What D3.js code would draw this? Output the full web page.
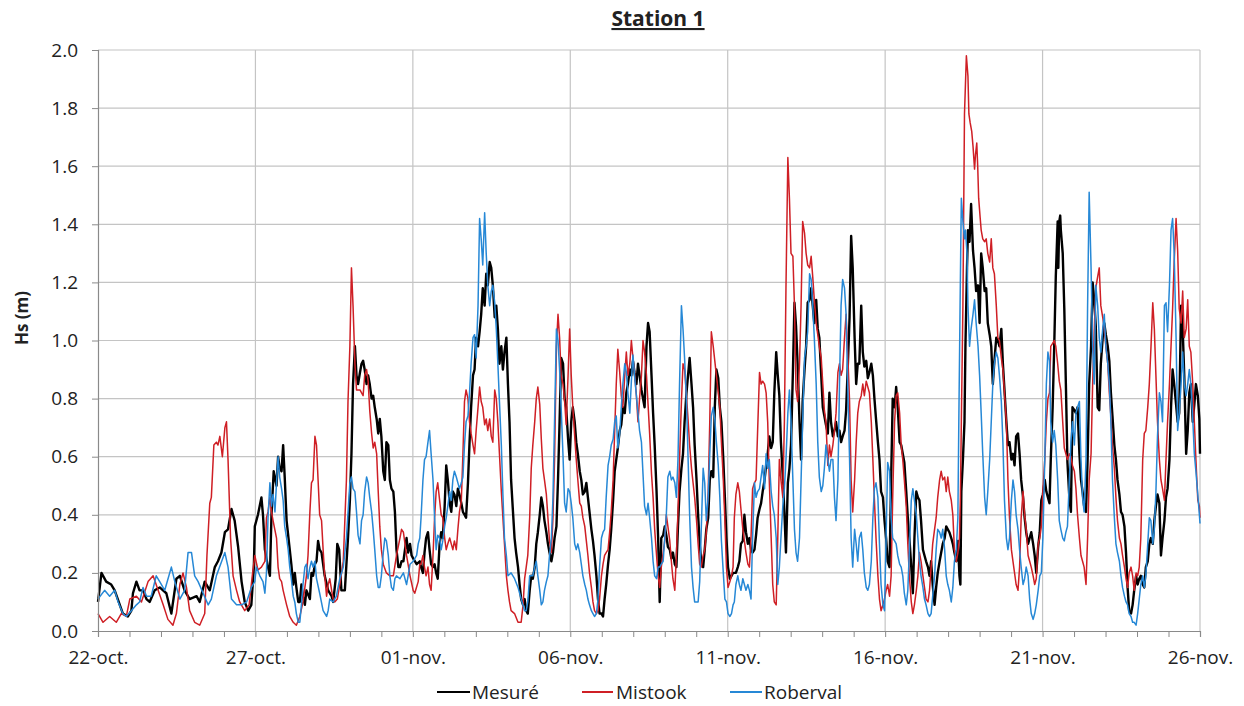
<!DOCTYPE html>
<html>
<head>
<meta charset="utf-8">
<script src="https://cdn.jsdelivr.net/npm/d3@7"></script>
<style>
  html, body { margin: 0; padding: 0; background: #fff; }
  svg { display: block; font-family: "Open Sans", "DejaVu Sans", sans-serif; }
</style>
</head>
<body>
<svg id="chart" width="1244" height="706"></svg>
<script>
// Hs (m) at Station 1; x is days elapsed since 22 October
const startLabel = "22-oct.";
const dayTickLabels = ["22-oct.", "27-oct.", "01-nov.", "06-nov.", "11-nov.", "16-nov.", "21-nov.", "26-nov."];
const yTickValues = [0, 0.2, 0.4, 0.6, 0.8, 1.0, 1.2, 1.4, 1.6, 1.8, 2.0];
const seriesNames = ["Mesuré", "Mistook", "Roberval"];

const mesure = [
[0,0.10],[0.11,0.20],[0.26,0.17],[0.42,0.16],[0.53,0.14],[0.79,0.06],[0.95,0.05],[1.06,0.07],[1.11,0.13],[1.22,0.17],[1.32,0.14],[1.43,0.14],[1.54,0.11],[1.64,0.10],[1.80,0.14],[1.96,0.15],[2.17,0.13],[2.33,0.06],[2.49,0.18],[2.60,0.19],[2.75,0.14],[2.91,0.11],[3.13,0.12],[3.23,0.10],[3.39,0.17],[3.55,0.14],[3.71,0.22],[3.81,0.24],[3.92,0.27],[4.03,0.34],[4.13,0.35],[4.24,0.42],[4.34,0.38],[4.45,0.29],[4.56,0.17],[4.66,0.10],[4.77,0.07],[4.87,0.09],[4.95,0.22],
[4.98,0.36],[5.08,0.40],[5.19,0.46],[5.24,0.40],[5.30,0.28],[5.40,0.22],[5.46,0.19],[5.51,0.40],[5.58,0.55],[5.67,0.50],[5.72,0.60],[5.77,0.56],[5.83,0.55],[5.88,0.64],[5.93,0.53],[5.99,0.38],[6.09,0.28],[6.14,0.23],[6.20,0.16],[6.25,0.20],[6.30,0.15],[6.36,0.10],[6.41,0.10],[6.46,0.16],[6.51,0.12],[6.57,0.09],[6.62,0.14],[6.73,0.11],[6.78,0.20],[6.83,0.19],[6.89,0.23],[6.94,0.24],[6.99,0.31],[7.04,0.28],[7.10,0.27],[7.20,0.19],[7.31,0.14],[7.42,0.12],[7.47,0.10],[7.55,0.18],[7.60,0.30],[7.66,0.28],[7.73,0.14],[7.84,0.14],[7.94,0.32],[8.00,0.45],[8.05,0.61],[8.10,0.85],[8.16,0.98],[8.21,0.88],[8.26,0.85],[8.32,0.89],[8.37,0.92],[8.42,0.93],[8.47,0.90],[8.53,0.85],[8.58,0.88],[8.63,0.85],[8.69,0.80],[8.74,0.81],[8.79,0.77],[8.85,0.73],[8.90,0.68],[8.95,0.73],[9.00,0.67],[9.06,0.55],[9.11,0.52],[9.16,0.65],[9.22,0.64],[9.27,0.52],[9.32,0.49],[9.38,0.48],[9.43,0.41],[9.48,0.28],[9.54,0.22],[9.59,0.22],[9.64,0.24],[9.70,0.24],[9.80,0.32],[9.85,0.27],[9.91,0.30],[9.96,0.26],[10.01,0.25],[10.12,0.23],[10.22,0.24],
[10.26,0.22],[10.32,0.20],[10.37,0.27],[10.42,0.32],[10.48,0.34],[10.53,0.28],[10.58,0.23],[10.64,0.22],[10.69,0.23],[10.74,0.20],[10.79,0.18],[10.85,0.30],[10.90,0.34],[10.95,0.32],[11.01,0.43],[11.06,0.57],[11.11,0.52],[11.17,0.44],[11.22,0.41],[11.27,0.48],[11.32,0.47],[11.38,0.43],[11.43,0.49],[11.48,0.47],[11.54,0.44],[11.59,0.41],[11.64,0.40],[11.69,0.39],[11.75,0.51],[11.80,0.65],[11.85,0.77],[11.91,0.88],[11.96,0.90],[12.01,1.01],[12.07,0.98],[12.12,1.03],[12.17,1.09],[12.22,1.18],[12.28,1.12],[12.33,1.23],[12.38,1.19],[12.44,1.27],[12.49,1.25],[12.54,1.19],[12.60,1.08],[12.65,1.12],[12.70,1.04],[12.75,0.92],[12.81,0.98],[12.86,0.90],[12.91,0.96],[12.97,1.01],[13.02,0.85],[13.07,0.72],[13.12,0.52],[13.18,0.41],[13.23,0.32],[13.28,0.27],[13.34,0.22],[13.39,0.16],[13.44,0.11],[13.50,0.09],[13.55,0.11],[13.60,0.07],[13.65,0.06],[13.71,0.14],[13.76,0.19],[13.81,0.18],[13.87,0.22],[13.92,0.30],[13.97,0.34],[14.03,0.40],[14.08,0.46],[14.13,0.43],[14.18,0.38],[14.24,0.34],[14.29,0.30],[14.34,0.27],[14.40,0.24],[14.45,0.27],[14.50,0.32],[14.56,0.36],[14.61,0.52],[14.66,0.72],[14.71,0.94],[14.77,0.92],[14.82,0.80],[14.87,0.77],[14.93,0.66],[14.98,0.59],[15.03,0.72],
[15.08,0.77],[15.14,0.72],[15.19,0.65],[15.24,0.61],[15.30,0.55],[15.35,0.52],[15.40,0.47],[15.46,0.48],[15.51,0.51],[15.56,0.46],[15.61,0.41],[15.67,0.35],[15.72,0.31],[15.77,0.26],[15.83,0.19],[15.88,0.11],[15.93,0.06],[15.99,0.06],[16.04,0.05],[16.09,0.11],[16.14,0.16],[16.20,0.23],[16.25,0.28],[16.30,0.35],[16.36,0.45],[16.41,0.55],[16.46,0.59],[16.51,0.63],[16.57,0.69],[16.62,0.71],[16.67,0.77],[16.73,0.75],[16.78,0.82],[16.83,0.85],[16.89,0.90],[16.94,0.88],[16.99,0.93],[17.04,0.89],[17.10,0.85],[17.15,0.92],[17.20,0.88],[17.26,0.83],[17.31,0.80],[17.36,0.77],[17.42,0.98],[17.47,1.06],[17.52,1.03],[17.58,0.88],[17.63,0.75],[17.68,0.64],[17.74,0.48],[17.79,0.32],[17.84,0.10],[17.89,0.32],[17.95,0.33],[18.00,0.36],[18.05,0.33],[18.10,0.29],[18.16,0.28],[18.21,0.25],[18.26,0.27],[18.32,0.23],[18.37,0.22],[18.42,0.36],[18.47,0.48],[18.53,0.56],[18.58,0.61],[18.63,0.72],[18.69,0.82],[18.74,0.88],[18.79,0.94],[18.85,0.85],[18.90,0.77],[18.95,0.64],[19.01,0.52],[19.06,0.40],[19.11,0.30],[19.16,0.24],[19.22,0.22],[19.27,0.28],[19.32,0.35],[19.38,0.39],[19.43,0.52],[19.48,0.55],[19.54,0.53],[19.59,0.77],[19.64,0.90],[19.70,0.87],[19.75,0.77],[19.80,0.72],[19.86,0.59],[19.91,0.46],[19.96,0.32],[20.01,0.22],[20.07,0.18],[20.12,0.19],[20.17,0.20],
[20.21,0.20],[20.26,0.20],[20.32,0.22],[20.37,0.24],[20.42,0.30],[20.48,0.31],[20.53,0.40],[20.58,0.34],[20.64,0.30],[20.69,0.32],[20.74,0.28],[20.79,0.27],[20.85,0.28],[20.90,0.33],[20.95,0.39],[21.01,0.42],[21.06,0.44],[21.11,0.48],[21.17,0.52],[21.22,0.57],[21.27,0.61],[21.32,0.67],[21.38,0.63],[21.43,0.65],[21.48,0.82],[21.54,0.96],[21.59,0.88],[21.64,0.81],[21.69,0.65],[21.75,0.53],[21.80,0.41],[21.85,0.27],[21.91,0.51],[21.96,0.56],[22.01,0.64],[22.07,0.89],[22.12,1.13],[22.17,1.05],[22.22,0.92],[22.28,0.72],[22.33,0.59],[22.38,0.79],[22.44,0.90],[22.49,0.98],[22.54,1.13],[22.60,1.14],[22.65,1.18],[22.70,1.12],[22.75,1.06],[22.81,1.14],[22.86,1.04],[22.91,1.01],[22.97,0.88],[23.02,0.77],[23.07,0.74],[23.12,0.71],[23.18,0.68],[23.23,0.82],[23.28,0.72],[23.34,0.67],[23.39,0.69],[23.44,0.72],[23.50,0.67],[23.55,0.69],[23.60,0.65],[23.65,0.67],[23.71,0.69],[23.76,0.76],[23.81,0.90],[23.87,1.08],[23.92,1.36],[23.97,1.25],[24.03,1.01],[24.08,0.85],[24.13,0.92],[24.18,0.92],[24.24,1.12],[24.29,0.96],[24.34,0.91],[24.40,0.93],[24.45,0.87],[24.50,0.89],[24.56,0.92],[24.61,0.88],[24.66,0.80],[24.71,0.73],[24.77,0.65],[24.82,0.59],[24.87,0.48],[24.93,0.46],[24.98,0.38],[25.03,0.32],[25.08,0.24],[25.14,0.22],
[25.19,0.52],[25.24,0.80],[25.30,0.77],[25.35,0.84],[25.40,0.77],[25.46,0.65],[25.51,0.64],[25.56,0.61],[25.61,0.58],[25.67,0.48],[25.72,0.39],[25.77,0.32],[25.83,0.22],[25.88,0.13],[25.93,0.32],[25.99,0.48],[26.04,0.46],[26.09,0.45],[26.14,0.38],[26.20,0.28],[26.25,0.26],[26.30,0.24],[26.36,0.22],[26.41,0.19],[26.46,0.24],[26.51,0.16],[26.57,0.09],[26.62,0.15],[26.67,0.20],[26.73,0.24],[26.78,0.27],[26.83,0.30],[26.89,0.32],[26.94,0.36],[26.99,0.35],[27.04,0.34],[27.10,0.32],[27.15,0.30],[27.20,0.27],[27.26,0.24],[27.31,0.31],[27.36,0.19],[27.39,0.16],[27.42,0.48],[27.47,0.59],[27.52,0.72],[27.55,0.98],[27.60,1.25],[27.63,1.38],[27.68,1.34],[27.73,1.47],[27.79,1.31],[27.84,1.25],[27.89,1.17],[27.95,1.19],[28.00,1.06],[28.05,1.30],[28.10,1.25],[28.16,1.17],[28.21,1.18],[28.26,1.06],[28.32,1.02],[28.37,0.98],[28.42,0.85],[28.47,0.93],[28.53,1.01],[28.58,1.00],[28.63,0.98],[28.69,1.04],[28.74,0.92],[28.79,0.83],[28.85,0.72],[28.90,0.64],[28.95,0.65],[29.01,0.59],[29.06,0.61],[29.11,0.57],[29.16,0.67],[29.22,0.68],[29.27,0.61],[29.32,0.52],[29.38,0.46],[29.43,0.39],[29.48,0.34],[29.54,0.30],[29.59,0.32],[29.64,0.34],[29.70,0.30],[29.75,0.26],[29.80,0.20],[29.86,0.29],[29.91,0.34],[29.96,0.45],[30.01,0.47],[30.07,0.52],[30.12,0.48],[30.17,0.46],[30.22,0.44],
[30.26,0.59],[30.32,0.77],[30.37,0.98],[30.42,1.22],[30.48,1.41],[30.50,1.25],[30.53,1.41],[30.56,1.43],[30.58,1.38],[30.64,1.30],[30.69,1.11],[30.74,0.85],[30.79,0.58],[30.85,0.46],[30.90,0.41],[30.95,0.77],[31.01,0.76],[31.06,0.75],[31.11,0.77],[31.17,0.61],[31.22,0.52],[31.27,0.48],[31.32,0.43],[31.38,0.41],[31.43,0.59],[31.48,0.85],[31.54,0.98],[31.59,1.20],[31.64,1.14],[31.69,1.05],[31.75,0.77],[31.80,0.76],[31.85,0.92],[31.91,1.01],[31.96,1.06],[32.01,1.02],[32.07,0.98],[32.12,0.93],[32.17,0.82],[32.22,0.74],[32.28,0.64],[32.33,0.59],[32.38,0.52],[32.44,0.47],[32.49,0.41],[32.54,0.40],[32.60,0.36],[32.65,0.27],[32.70,0.15],[32.75,0.07],[32.81,0.06],[32.86,0.09],[32.91,0.14],[32.97,0.19],[33.02,0.16],[33.07,0.18],[33.12,0.19],[33.18,0.16],[33.23,0.15],[33.28,0.22],[33.34,0.24],[33.39,0.30],[33.44,0.32],[33.50,0.30],[33.55,0.38],[33.60,0.43],[33.65,0.47],[33.71,0.44],[33.76,0.26],[33.81,0.32],[33.87,0.38],[33.92,0.46],[33.97,0.49],[34.03,0.59],[34.08,0.77],[34.13,0.90],[34.18,0.85],[34.24,0.78],[34.29,0.72],[34.34,0.75],[34.40,1.12],[34.45,1.04],[34.50,0.88],[34.56,0.61],[34.61,0.69],[34.66,0.82],[34.71,0.85],[34.77,0.72],[34.82,0.78],[34.87,0.85],[34.93,0.81],[34.98,0.73],[35.0,0.61]
];

const mistook = [
[0,0.06],[0.16,0.03],[0.37,0.05],[0.58,0.03],[0.74,0.06],[0.90,0.05],[1.01,0.11],[1.22,0.12],[1.38,0.10],[1.59,0.17],[1.75,0.19],[1.91,0.14],[2.07,0.09],[2.22,0.04],[2.38,0.02],[2.49,0.06],[2.60,0.16],[2.70,0.20],[2.81,0.15],[2.91,0.07],[3.07,0.03],[3.23,0.02],[3.39,0.06],[3.46,0.26],[3.55,0.44],[3.60,0.46],[3.68,0.64],[3.76,0.65],[3.81,0.64],[3.87,0.67],[3.95,0.60],[4.03,0.70],[4.08,0.72],[4.13,0.59],[4.21,0.32],[4.29,0.19],[4.40,0.14],[4.50,0.10],[4.66,0.07],[4.80,0.09],[4.90,0.19],
[4.98,0.26],[5.08,0.21],[5.19,0.22],[5.30,0.24],[5.35,0.39],[5.40,0.41],[5.46,0.46],[5.51,0.41],[5.56,0.38],[5.67,0.32],[5.72,0.22],[5.77,0.18],[5.83,0.17],[5.88,0.14],[5.99,0.09],[6.09,0.05],[6.20,0.03],[6.30,0.02],[6.41,0.05],[6.51,0.10],[6.62,0.19],[6.67,0.26],[6.73,0.41],[6.78,0.51],[6.83,0.52],[6.89,0.67],[6.94,0.64],[6.99,0.52],[7.04,0.40],[7.10,0.38],[7.15,0.28],[7.20,0.19],[7.26,0.12],[7.31,0.16],[7.36,0.18],[7.42,0.14],[7.47,0.11],[7.52,0.10],[7.60,0.11],[7.68,0.16],[7.79,0.24],[7.89,0.52],[7.94,0.79],[8.00,0.98],[8.05,1.25],[8.10,1.12],[8.16,0.92],[8.21,0.83],[8.32,0.83],[8.42,0.81],[8.47,0.88],[8.53,0.90],[8.58,0.86],[8.63,0.76],[8.69,0.68],[8.74,0.63],[8.79,0.65],[8.85,0.61],[8.90,0.48],[8.95,0.36],[9.00,0.28],[9.06,0.23],[9.16,0.20],[9.27,0.19],[9.38,0.19],[9.48,0.26],[9.59,0.32],[9.64,0.35],[9.70,0.34],[9.80,0.26],[9.91,0.19],[10.01,0.14],[10.06,0.13],[10.17,0.17],[10.22,0.23],
[10.26,0.23],[10.32,0.26],[10.37,0.22],[10.42,0.19],[10.48,0.22],[10.53,0.16],[10.58,0.14],[10.64,0.26],[10.69,0.39],[10.74,0.48],[10.79,0.51],[10.85,0.45],[10.90,0.40],[10.95,0.39],[11.01,0.32],[11.06,0.28],[11.11,0.30],[11.17,0.32],[11.22,0.30],[11.27,0.28],[11.32,0.31],[11.38,0.28],[11.43,0.35],[11.48,0.41],[11.54,0.45],[11.59,0.61],[11.64,0.79],[11.69,0.83],[11.75,0.80],[11.80,0.72],[11.85,0.68],[11.91,0.64],[11.96,0.61],[12.01,0.69],[12.07,0.77],[12.12,0.84],[12.17,0.79],[12.22,0.77],[12.28,0.71],[12.33,0.73],[12.38,0.69],[12.44,0.73],[12.49,0.67],[12.54,0.65],[12.60,0.83],[12.65,0.80],[12.70,0.72],[12.75,0.61],[12.81,0.48],[12.86,0.39],[12.91,0.30],[12.97,0.19],[13.02,0.14],[13.07,0.10],[13.12,0.07],[13.23,0.06],[13.34,0.03],[13.39,0.03],[13.44,0.03],[13.50,0.09],[13.55,0.18],[13.60,0.22],[13.65,0.26],[13.71,0.39],[13.76,0.56],[13.81,0.64],[13.87,0.72],[13.92,0.80],[13.97,0.84],[14.03,0.78],[14.08,0.66],[14.13,0.56],[14.18,0.52],[14.24,0.47],[14.29,0.39],[14.34,0.31],[14.40,0.27],[14.45,0.39],[14.50,0.59],[14.56,0.98],[14.61,1.09],[14.66,1.01],[14.71,0.88],[14.77,0.85],[14.82,0.79],[14.87,0.71],[14.93,0.88],[14.98,1.04],
[15.03,0.88],[15.08,0.77],[15.14,0.67],[15.19,0.59],[15.24,0.52],[15.30,0.44],[15.35,0.43],[15.40,0.39],[15.46,0.36],[15.51,0.31],[15.56,0.26],[15.61,0.20],[15.67,0.15],[15.72,0.10],[15.77,0.07],[15.83,0.06],[15.88,0.07],[15.93,0.11],[15.99,0.19],[16.04,0.23],[16.09,0.26],[16.14,0.27],[16.20,0.28],[16.25,0.34],[16.30,0.41],[16.36,0.52],[16.41,0.69],[16.46,0.85],[16.51,0.97],[16.57,0.89],[16.62,0.81],[16.67,0.77],[16.73,0.88],[16.78,0.96],[16.83,0.88],[16.89,0.92],[16.94,1.00],[16.99,0.94],[17.04,0.89],[17.10,0.81],[17.15,0.72],[17.20,0.80],[17.26,0.88],[17.31,1.00],[17.36,0.96],[17.42,0.88],[17.47,0.78],[17.52,0.68],[17.58,0.54],[17.63,0.46],[17.68,0.35],[17.74,0.26],[17.79,0.19],[17.84,0.15],[17.89,0.22],[17.95,0.27],[18.00,0.31],[18.05,0.40],[18.10,0.36],[18.16,0.31],[18.21,0.24],[18.26,0.18],[18.32,0.14],[18.37,0.26],[18.42,0.41],[18.47,0.59],[18.53,0.79],[18.58,0.92],[18.63,0.90],[18.69,0.81],[18.74,0.73],[18.79,0.64],[18.85,0.56],[18.90,0.51],[18.95,0.46],[19.01,0.38],[19.06,0.30],[19.11,0.23],[19.16,0.22],[19.22,0.26],[19.27,0.28],[19.32,0.34],[19.38,0.48],[19.43,0.72],[19.48,1.03],[19.54,0.98],[19.59,0.93],[19.64,0.88],[19.70,0.82],[19.75,0.77],[19.80,0.65],[19.86,0.52],[19.91,0.38],[19.96,0.22],[20.01,0.15],[20.07,0.17],[20.12,0.19],[20.17,0.22],
[20.21,0.39],[20.26,0.47],[20.32,0.51],[20.37,0.48],[20.42,0.42],[20.48,0.35],[20.53,0.31],[20.58,0.27],[20.64,0.23],[20.69,0.22],[20.74,0.32],[20.79,0.49],[20.85,0.51],[20.90,0.52],[20.95,0.69],[21.01,0.89],[21.06,0.85],[21.11,0.86],[21.17,0.85],[21.22,0.82],[21.27,0.72],[21.32,0.52],[21.38,0.32],[21.43,0.16],[21.48,0.10],[21.54,0.09],[21.59,0.32],[21.64,0.59],[21.69,0.52],[21.75,0.46],[21.80,0.72],[21.85,1.18],[21.91,1.63],[21.96,1.49],[22.01,1.30],[22.07,1.29],[22.12,1.12],[22.17,0.83],[22.22,0.79],[22.28,0.92],[22.33,1.12],[22.38,1.41],[22.44,1.37],[22.49,1.30],[22.54,1.26],[22.60,1.25],[22.65,1.29],[22.70,1.22],[22.75,1.14],[22.81,1.06],[22.86,1.02],[22.91,0.98],[22.97,0.94],[23.02,0.85],[23.07,0.76],[23.12,0.72],[23.18,0.57],[23.23,0.64],[23.28,0.60],[23.34,0.64],[23.39,0.69],[23.44,0.75],[23.50,0.89],[23.55,0.92],[23.60,0.88],[23.65,0.90],[23.71,1.01],[23.76,1.09],[23.81,0.96],[23.87,0.79],[23.92,0.52],[23.97,0.41],[24.03,0.52],[24.08,0.65],[24.13,0.75],[24.18,0.79],[24.24,0.81],[24.29,0.85],[24.34,0.81],[24.40,0.86],[24.45,0.84],[24.50,0.82],[24.56,0.72],[24.61,0.59],[24.66,0.45],[24.71,0.32],[24.77,0.19],[24.82,0.11],[24.87,0.07],[24.93,0.09],[24.98,0.11],[25.03,0.14],[25.08,0.16],
[25.14,0.12],[25.19,0.19],[25.24,0.46],[25.30,0.72],[25.35,0.81],[25.40,0.82],[25.46,0.75],[25.51,0.64],[25.56,0.59],[25.61,0.52],[25.67,0.43],[25.72,0.30],[25.77,0.19],[25.83,0.10],[25.88,0.06],[25.93,0.09],[25.99,0.14],[26.04,0.19],[26.09,0.27],[26.14,0.24],[26.20,0.19],[26.25,0.15],[26.30,0.11],[26.36,0.10],[26.41,0.14],[26.46,0.22],[26.51,0.30],[26.57,0.35],[26.62,0.39],[26.67,0.46],[26.73,0.52],[26.78,0.55],[26.83,0.52],[26.89,0.53],[26.94,0.48],[26.99,0.53],[27.04,0.48],[27.10,0.45],[27.15,0.40],[27.20,0.28],[27.26,0.24],[27.31,0.27],[27.36,0.32],[27.39,0.46],[27.42,0.72],[27.47,1.12],[27.52,1.78],[27.55,1.88],[27.58,1.98],[27.63,1.91],[27.66,1.78],[27.70,1.75],[27.75,1.72],[27.79,1.67],[27.84,1.59],[27.87,1.64],[27.91,1.68],[27.94,1.60],[27.97,1.49],[28.02,1.42],[28.05,1.38],[28.10,1.35],[28.16,1.34],[28.21,1.35],[28.26,1.30],[28.32,1.27],[28.37,1.35],[28.42,1.25],[28.47,1.23],[28.53,1.12],[28.58,1.01],[28.63,1.00],[28.69,0.94],[28.74,0.90],[28.79,0.82],[28.85,0.72],[28.90,0.52],[28.95,0.39],[29.01,0.28],[29.06,0.24],[29.11,0.20],[29.16,0.16],[29.22,0.14],[29.27,0.22],[29.32,0.39],[29.38,0.48],[29.43,0.40],[29.48,0.35],[29.54,0.26],[29.59,0.24],[29.64,0.22],[29.70,0.19],[29.75,0.16],[29.80,0.18],[29.86,0.30],[29.91,0.32],[29.96,0.36],[30.01,0.48],[30.07,0.59],[30.12,0.72],[30.17,0.80],[30.22,0.82],
[30.26,0.98],[30.32,0.99],[30.37,1.00],[30.42,0.98],[30.48,0.92],[30.53,0.86],[30.58,0.83],[30.64,0.72],[30.69,0.63],[30.74,0.61],[30.79,0.59],[30.85,0.61],[30.90,0.60],[30.95,0.57],[31.01,0.55],[31.06,0.49],[31.11,0.40],[31.17,0.32],[31.22,0.26],[31.27,0.24],[31.32,0.22],[31.38,0.16],[31.43,0.32],[31.48,0.52],[31.54,0.61],[31.59,0.85],[31.64,1.03],[31.69,1.18],[31.75,1.22],[31.80,1.25],[31.85,1.12],[31.91,1.08],[31.96,1.04],[32.01,0.98],[32.07,0.92],[32.12,0.82],[32.17,0.74],[32.22,0.64],[32.28,0.56],[32.33,0.46],[32.38,0.38],[32.44,0.32],[32.49,0.30],[32.54,0.26],[32.60,0.22],[32.65,0.18],[32.70,0.15],[32.75,0.20],[32.81,0.22],[32.86,0.19],[32.91,0.14],[32.97,0.20],[33.02,0.19],[33.07,0.22],[33.12,0.32],[33.18,0.59],[33.23,0.68],[33.28,0.69],[33.34,0.77],[33.39,0.85],[33.44,0.97],[33.50,1.13],[33.55,1.04],[33.60,0.88],[33.65,0.72],[33.71,0.59],[33.76,0.52],[33.81,0.49],[33.87,0.45],[33.92,0.59],[33.97,0.72],[34.03,0.85],[34.08,0.98],[34.13,1.11],[34.18,1.27],[34.24,1.42],[34.29,1.31],[34.34,1.11],[34.40,1.06],[34.45,1.17],[34.50,1.01],[34.56,1.04],[34.61,1.14],[34.66,0.98],[34.71,0.96],[34.77,0.85],[34.82,0.72],[34.87,0.59],[34.93,0.45],[34.98,0.43],[35.0,0.39]
];

const roberval = [
[0,0.11],[0.21,0.14],[0.37,0.12],[0.53,0.14],[0.64,0.10],[0.79,0.06],[0.90,0.05],[1.06,0.07],[1.22,0.09],[1.32,0.10],[1.43,0.15],[1.54,0.12],[1.69,0.12],[1.85,0.19],[1.96,0.17],[2.12,0.14],[2.33,0.22],[2.44,0.17],[2.60,0.11],[2.75,0.14],[2.86,0.27],[2.97,0.27],[3.07,0.19],[3.18,0.17],[3.34,0.13],[3.50,0.09],[3.60,0.11],[3.76,0.19],[4.03,0.27],[4.13,0.22],[4.24,0.11],[4.40,0.09],[4.56,0.09],[4.72,0.10],[4.87,0.15],[4.98,0.17],
[5.03,0.22],[5.14,0.19],[5.24,0.17],[5.30,0.13],[5.35,0.20],[5.40,0.39],[5.46,0.51],[5.51,0.43],[5.56,0.47],[5.62,0.41],[5.67,0.51],[5.72,0.60],[5.77,0.53],[5.83,0.49],[5.88,0.45],[5.93,0.36],[5.99,0.32],[6.04,0.28],[6.09,0.22],[6.14,0.18],[6.20,0.12],[6.25,0.10],[6.30,0.06],[6.36,0.03],[6.41,0.03],[6.46,0.09],[6.51,0.16],[6.57,0.22],[6.62,0.23],[6.67,0.18],[6.73,0.22],[6.78,0.24],[6.83,0.22],[6.89,0.24],[6.94,0.18],[7.04,0.13],[7.15,0.07],[7.26,0.05],[7.31,0.07],[7.36,0.11],[7.47,0.10],[7.57,0.12],[7.68,0.18],[7.79,0.22],[7.89,0.32],[8.00,0.51],[8.05,0.53],[8.10,0.49],[8.16,0.48],[8.21,0.41],[8.26,0.33],[8.32,0.30],[8.37,0.38],[8.42,0.40],[8.47,0.48],[8.53,0.53],[8.58,0.51],[8.63,0.46],[8.69,0.41],[8.74,0.35],[8.79,0.28],[8.85,0.19],[8.90,0.15],[8.95,0.15],[9.00,0.19],[9.06,0.27],[9.11,0.32],[9.16,0.31],[9.22,0.26],[9.27,0.19],[9.32,0.15],[9.38,0.14],[9.43,0.18],[9.48,0.19],[9.59,0.18],[9.70,0.20],[9.80,0.16],[9.85,0.19],[9.91,0.23],[10.01,0.24],[10.12,0.26],[10.17,0.30],[10.22,0.32],
[10.26,0.39],[10.32,0.52],[10.37,0.59],[10.42,0.60],[10.48,0.65],[10.53,0.69],[10.58,0.61],[10.64,0.52],[10.69,0.39],[10.74,0.28],[10.79,0.33],[10.85,0.32],[10.90,0.28],[10.95,0.31],[11.01,0.36],[11.06,0.39],[11.11,0.43],[11.17,0.48],[11.22,0.45],[11.27,0.52],[11.32,0.55],[11.38,0.53],[11.43,0.51],[11.48,0.49],[11.54,0.51],[11.59,0.53],[11.64,0.64],[11.69,0.72],[11.75,0.74],[11.80,0.82],[11.85,0.92],[11.91,1.01],[11.96,1.02],[12.01,0.94],[12.07,1.12],[12.12,1.42],[12.17,1.35],[12.22,1.26],[12.28,1.44],[12.33,1.30],[12.38,1.19],[12.44,1.12],[12.49,1.17],[12.54,1.19],[12.60,1.13],[12.65,1.04],[12.70,0.92],[12.75,0.79],[12.81,0.64],[12.86,0.47],[12.91,0.32],[12.97,0.26],[13.02,0.19],[13.12,0.20],[13.23,0.18],[13.34,0.15],[13.44,0.11],[13.55,0.07],[13.60,0.07],[13.65,0.10],[13.71,0.19],[13.81,0.19],[13.87,0.22],[13.92,0.24],[13.97,0.19],[14.03,0.14],[14.08,0.09],[14.13,0.10],[14.18,0.14],[14.24,0.17],[14.29,0.19],[14.34,0.26],[14.40,0.32],[14.45,0.46],[14.50,0.72],[14.56,1.04],[14.61,1.00],[14.66,0.90],[14.71,0.77],[14.77,0.60],[14.82,0.44],[14.87,0.41],[14.93,0.49],[14.98,0.48],[15.03,0.44],[15.08,0.39],
[15.14,0.30],[15.19,0.28],[15.24,0.30],[15.30,0.27],[15.35,0.23],[15.40,0.19],[15.46,0.16],[15.51,0.14],[15.56,0.11],[15.61,0.09],[15.67,0.07],[15.72,0.06],[15.77,0.05],[15.83,0.06],[15.88,0.11],[15.93,0.22],[15.99,0.32],[16.04,0.34],[16.09,0.35],[16.14,0.46],[16.20,0.57],[16.25,0.60],[16.30,0.64],[16.36,0.66],[16.41,0.72],[16.46,0.74],[16.51,0.63],[16.57,0.68],[16.62,0.77],[16.67,0.85],[16.73,0.92],[16.78,0.89],[16.83,0.82],[16.89,0.75],[16.94,0.86],[16.99,0.95],[17.04,0.88],[17.10,0.81],[17.15,0.75],[17.20,0.69],[17.26,0.65],[17.31,0.54],[17.36,0.43],[17.42,0.40],[17.47,0.44],[17.52,0.39],[17.58,0.32],[17.63,0.24],[17.68,0.19],[17.74,0.18],[17.79,0.22],[17.84,0.22],[17.89,0.23],[17.95,0.24],[18.00,0.32],[18.05,0.40],[18.10,0.53],[18.16,0.55],[18.21,0.52],[18.26,0.53],[18.32,0.51],[18.37,0.46],[18.42,0.59],[18.47,0.85],[18.53,1.12],[18.58,1.04],[18.63,0.94],[18.69,0.79],[18.74,0.60],[18.79,0.40],[18.85,0.22],[18.90,0.15],[18.95,0.10],[19.06,0.10],[19.11,0.17],[19.16,0.35],[19.22,0.56],[19.27,0.51],[19.32,0.38],[19.38,0.46],[19.43,0.61],[19.48,0.74],[19.54,0.77],[19.59,0.73],[19.64,0.65],[19.70,0.57],[19.75,0.46],[19.80,0.31],[19.86,0.20],[19.91,0.11],[19.96,0.10],[20.01,0.06],[20.07,0.05],[20.12,0.06],[20.17,0.09],
[20.21,0.10],[20.26,0.16],[20.32,0.19],[20.37,0.16],[20.42,0.14],[20.48,0.18],[20.53,0.16],[20.58,0.14],[20.64,0.16],[20.69,0.14],[20.74,0.11],[20.79,0.32],[20.85,0.51],[20.90,0.46],[20.95,0.48],[21.01,0.49],[21.06,0.53],[21.11,0.57],[21.17,0.49],[21.22,0.61],[21.27,0.56],[21.32,0.59],[21.38,0.48],[21.43,0.43],[21.48,0.40],[21.54,0.32],[21.59,0.16],[21.64,0.22],[21.69,0.32],[21.75,0.43],[21.80,0.49],[21.85,0.59],[21.91,0.75],[21.96,0.83],[22.01,0.72],[22.07,0.52],[22.12,0.35],[22.17,0.27],[22.22,0.24],[22.28,0.32],[22.33,0.52],[22.38,0.72],[22.44,0.94],[22.49,0.98],[22.54,1.03],[22.60,1.23],[22.65,1.21],[22.70,1.12],[22.75,1.01],[22.81,0.85],[22.86,0.65],[22.91,0.53],[22.97,0.48],[23.02,0.50],[23.07,0.56],[23.12,0.64],[23.18,0.59],[23.23,0.55],[23.28,0.59],[23.34,0.59],[23.39,0.46],[23.44,0.38],[23.50,0.52],[23.55,0.85],[23.60,1.12],[23.65,1.21],[23.71,1.18],[23.76,1.09],[23.81,0.85],[23.87,0.59],[23.92,0.32],[23.97,0.22],[24.03,0.35],[24.08,0.30],[24.13,0.24],[24.18,0.32],[24.24,0.34],[24.29,0.28],[24.34,0.20],[24.40,0.15],[24.45,0.14],[24.50,0.16],[24.56,0.24],[24.61,0.39],[24.66,0.49],[24.71,0.51],[24.77,0.46],[24.82,0.30],[24.87,0.16],[24.93,0.09],[24.98,0.07],[25.03,0.32],[25.08,0.58],[25.14,0.55],
[25.19,0.39],[25.24,0.32],[25.30,0.31],[25.35,0.30],[25.40,0.26],[25.46,0.23],[25.51,0.22],[25.56,0.19],[25.61,0.13],[25.67,0.09],[25.72,0.14],[25.77,0.28],[25.83,0.45],[25.88,0.49],[25.93,0.45],[25.99,0.40],[26.04,0.32],[26.09,0.24],[26.14,0.19],[26.20,0.15],[26.25,0.11],[26.30,0.09],[26.36,0.06],[26.41,0.05],[26.46,0.06],[26.51,0.12],[26.57,0.19],[26.62,0.28],[26.67,0.35],[26.73,0.34],[26.78,0.32],[26.83,0.35],[26.89,0.28],[26.94,0.19],[26.99,0.16],[27.04,0.14],[27.10,0.10],[27.15,0.15],[27.20,0.24],[27.26,0.28],[27.31,0.39],[27.34,0.72],[27.38,1.12],[27.42,1.49],[27.47,1.41],[27.52,1.35],[27.55,1.38],[27.60,1.30],[27.63,1.12],[27.68,0.98],[27.73,1.04],[27.79,1.09],[27.84,1.14],[27.89,1.06],[27.95,0.98],[28.00,0.88],[28.05,0.75],[28.10,0.61],[28.16,0.46],[28.21,0.40],[28.26,0.48],[28.32,0.59],[28.37,0.72],[28.42,0.85],[28.47,0.92],[28.53,0.96],[28.58,0.94],[28.63,0.88],[28.69,0.79],[28.74,0.65],[28.79,0.45],[28.85,0.32],[28.90,0.28],[28.95,0.32],[29.01,0.45],[29.06,0.52],[29.11,0.48],[29.16,0.40],[29.22,0.35],[29.27,0.28],[29.32,0.22],[29.38,0.16],[29.43,0.18],[29.48,0.22],[29.54,0.19],[29.59,0.11],[29.64,0.06],[29.70,0.04],[29.75,0.06],[29.80,0.09],[29.86,0.14],[29.91,0.19],[29.96,0.20],[30.01,0.32],[30.07,0.59],[30.12,0.85],[30.17,0.96],[30.22,0.93],
[30.26,0.72],[30.32,0.65],[30.37,0.69],[30.42,0.64],[30.48,0.52],[30.53,0.38],[30.58,0.35],[30.64,0.32],[30.69,0.31],[30.74,0.34],[30.79,0.36],[30.85,0.52],[30.90,0.65],[30.95,0.72],[31.01,0.64],[31.06,0.75],[31.11,0.77],[31.17,0.79],[31.22,0.59],[31.27,0.46],[31.32,0.41],[31.38,0.59],[31.43,1.12],[31.48,1.51],[31.54,1.25],[31.59,0.98],[31.64,0.85],[31.69,1.19],[31.75,1.12],[31.80,1.01],[31.85,0.96],[31.91,1.04],[31.96,1.09],[32.01,0.98],[32.07,0.92],[32.12,0.85],[32.17,0.72],[32.22,0.52],[32.28,0.39],[32.33,0.30],[32.38,0.27],[32.44,0.24],[32.49,0.19],[32.54,0.15],[32.60,0.12],[32.65,0.10],[32.70,0.09],[32.75,0.06],[32.81,0.05],[32.86,0.03],[32.91,0.03],[32.97,0.02],[33.02,0.06],[33.07,0.11],[33.12,0.16],[33.18,0.19],[33.23,0.15],[33.28,0.19],[33.34,0.30],[33.39,0.39],[33.44,0.38],[33.50,0.30],[33.55,0.35],[33.60,0.48],[33.65,0.67],[33.71,0.82],[33.76,0.79],[33.81,0.72],[33.87,1.12],[33.92,1.13],[33.97,1.03],[34.03,1.19],[34.08,1.38],[34.13,1.42],[34.18,1.30],[34.24,1.01],[34.29,0.69],[34.34,0.75],[34.40,0.85],[34.45,0.96],[34.50,0.85],[34.56,0.81],[34.61,0.85],[34.66,0.90],[34.71,0.85],[34.77,0.73],[34.82,0.61],[34.87,0.55],[34.93,0.47],[34.98,0.40],[35.0,0.37]
];

const seriesColors = ["#000000", "#cf1f25", "#2688d6"];
const seriesWidths = [2.4, 1.5, 1.5];

const svg = d3.select("#chart");
const W = 1244, H = 706;
const m = { left: 98, right: 44, top: 50, bottom: 75 };
const plotW = W - m.left - m.right;   // 1102
const plotH = H - m.top - m.bottom;   // 581

svg.append("rect").attr("width", W).attr("height", H).attr("fill", "#fff");

const x = d3.scaleLinear().domain([0, 35]).range([m.left, m.left + plotW]);
const y = d3.scaleLinear().domain([0, 2]).range([m.top + plotH, m.top]);

// gridlines
const grid = svg.append("g").attr("class", "grid");
grid.selectAll("line.h").data(yTickValues.slice(1)).join("line")
  .attr("x1", x(0)).attr("x2", x(35))
  .attr("y1", d => y(d)).attr("y2", d => y(d))
  .attr("stroke", "#c4c4c4").attr("stroke-width", 1.2);
grid.selectAll("line.v").data(d3.range(5, 36, 5)).join("line")
  .attr("x1", d => x(d)).attr("x2", d => x(d))
  .attr("y1", y(0)).attr("y2", y(2))
  .attr("stroke", "#c4c4c4").attr("stroke-width", 1.2);

// series
const line = d3.line().x(d => x(d[0])).y(d => y(d[1]));
[mesure, mistook, roberval].forEach((s, i) => {
  svg.append("path")
    .datum(s)
    .attr("d", line)
    .attr("fill", "none")
    .attr("stroke", seriesColors[i])
    .attr("stroke-width", seriesWidths[i])
    .attr("stroke-linejoin", "round");
});

// axes
const tickFont = 19;
const xAxis = d3.axisBottom(x)
  .tickValues(d3.range(0, 36, 1))
  .tickSize(6)
  .tickPadding(14)
  .tickFormat(d => d % 5 === 0 ? dayTickLabels[d / 5] : "");
const gx = svg.append("g").attr("transform", `translate(0,${y(0)})`).call(xAxis);
gx.select(".domain").attr("stroke", "#8a8a8a").attr("stroke-width", 1.2);
gx.selectAll(".tick line").attr("stroke", "#8a8a8a");
gx.selectAll(".tick text").attr("font-size", tickFont).attr("fill", "#222")
  .attr("font-family", "Open Sans, sans-serif");

const yAxis = d3.axisLeft(y)
  .tickValues(yTickValues)
  .tickSize(6)
  .tickPadding(14)
  .tickFormat(d3.format(".1f"));
const gy = svg.append("g").attr("transform", `translate(${x(0)},0)`).call(yAxis);
gy.select(".domain").attr("stroke", "#8a8a8a").attr("stroke-width", 1.2);
gy.selectAll(".tick line").attr("stroke", "#8a8a8a");
gy.selectAll(".tick text").attr("font-size", tickFont).attr("fill", "#222")
  .attr("font-family", "Open Sans, sans-serif");

// title
svg.append("text")
  .attr("x", 658).attr("y", 26)
  .attr("text-anchor", "middle")
  .attr("font-size", 21).attr("font-weight", "bold")
  .attr("fill", "#222")
  .style("text-decoration", "underline")
  .text("Station 1");

// y-axis title
svg.append("text")
  .attr("transform", "translate(28,318) rotate(-90)")
  .attr("text-anchor", "middle")
  .attr("font-size", 17).attr("font-weight", "bold")
  .attr("fill", "#222")
  .text("Hs (m)");

// legend
const legendItems = [
  { name: seriesNames[0], x1: 437, x2: 470, tx: 472 },
  { name: seriesNames[1], x1: 582, x2: 613, tx: 616 },
  { name: seriesNames[2], x1: 730, x2: 762, tx: 764 }
];
const lg = svg.append("g").attr("class", "legend");
legendItems.forEach((it, i) => {
  lg.append("line")
    .attr("x1", it.x1).attr("x2", it.x2)
    .attr("y1", 692).attr("y2", 692)
    .attr("stroke", seriesColors[i]).attr("stroke-width", 2);
  lg.append("text")
    .attr("x", it.tx).attr("y", 699)
    .attr("font-size", 19).attr("fill", "#222")
    .text(it.name);
});
</script>
</body>
</html>
